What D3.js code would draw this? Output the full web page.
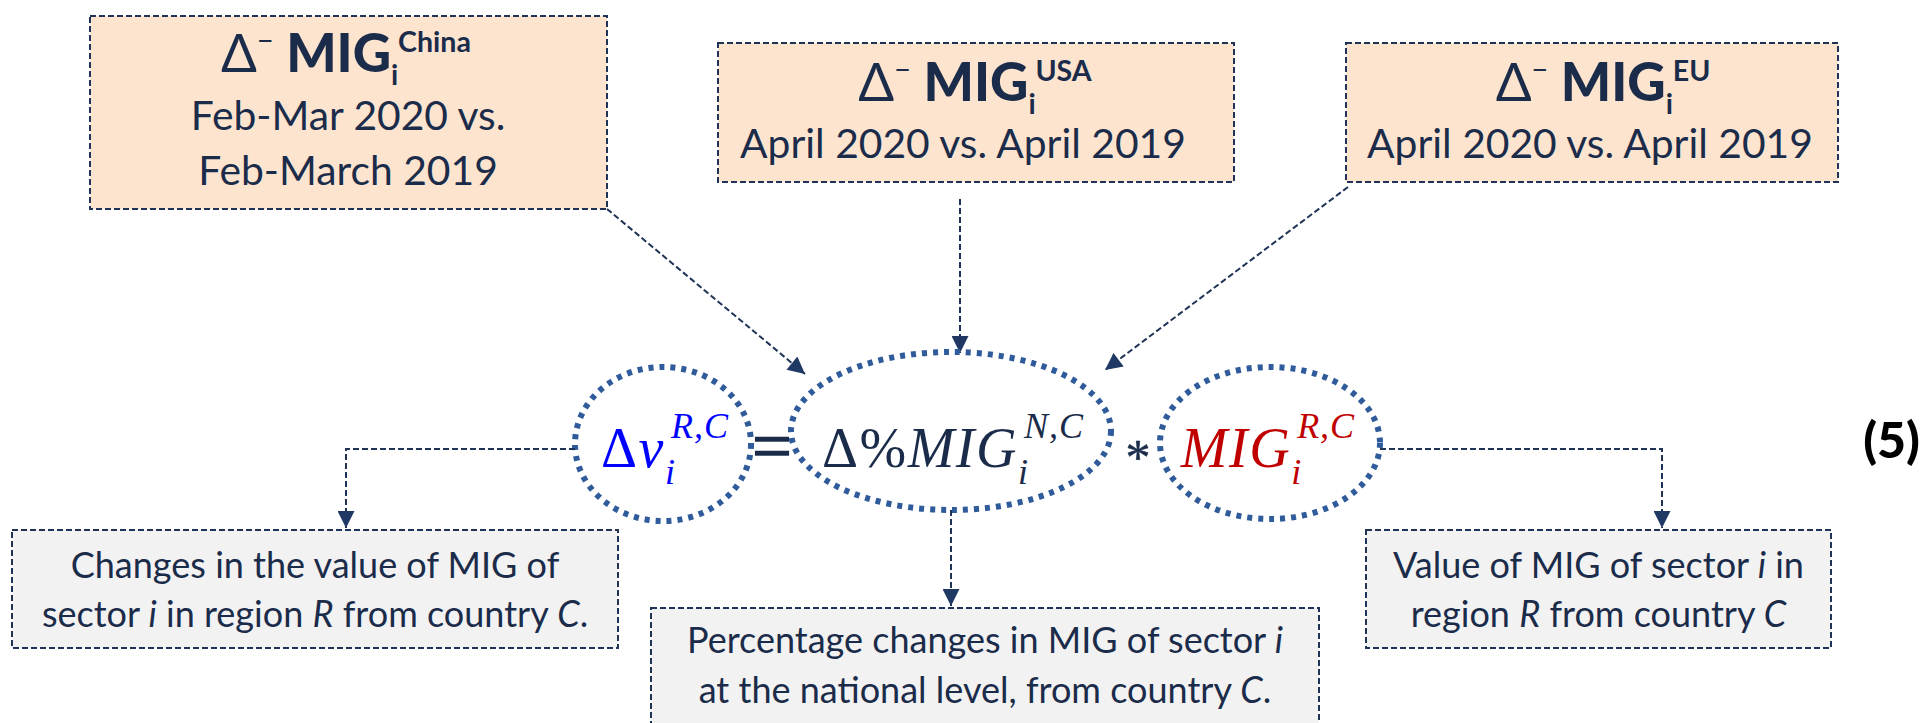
<!DOCTYPE html>
<html><head><meta charset="utf-8">
<script src="https://cdn.jsdelivr.net/npm/d3@7"></script>
<style>
html,body{margin:0;padding:0;background:#fff;overflow:hidden;}
svg{display:block;}
</style></head>
<body>
<svg id="c" width="1923" height="723"></svg>
<script>
// ---------------- data ----------------
const regions = ["China", "USA", "EU"];
const periodLines = [
  ["Feb-Mar 2020 vs.", "Feb-March 2019"],
  ["April 2020 vs. April 2019"],
  ["April 2020 vs. April 2019"]
];
const termMain = ["Δv", "Δ%MIG", "MIG"];
const termSup = ["R,C", "N,C", "R,C"];
const termSub = ["i", "i", "i"];
const operators = ["=", "*"];
const descriptions = [
  ["Changes in the value of MIG of", "sector _i_ in region _R_ from country _C_."],
  ["Percentage changes in MIG of sector _i_", "at the national level, from country _C_."],
  ["Value of MIG of sector _i_ in", "region _R_ from country _C_"]
];
const equationNumber = "(5)";

// ---------------- style / layout ----------------
const svg = d3.select("#c");
const navy = "#1f3356", dotBlue = "#2f5b9b", peach = "#fde4cf", grey = "#f2f2f2";
const textNavy = "#1b2c4a";
const termColors = ["#0000ff", textNavy, "#c00000"];
const sansFont = "Lato, 'Open Sans', sans-serif";
const mathFont = "'Liberation Serif', 'DejaVu Serif', serif";

const defs = svg.append("defs");
defs.append("marker").attr("id", "ah")
  .attr("viewBox", "0 0 10 10").attr("refX", 10).attr("refY", 5)
  .attr("markerWidth", 20).attr("markerHeight", 17)
  .attr("markerUnits", "userSpaceOnUse").attr("orient", "auto")
  .append("path").attr("d", "M0,0 L10,5 L0,10 Z").attr("fill", "#203864");

function measure(str, font, size, weight) {
  const t = svg.append("text").attr("font-family", font).attr("font-size", size)
    .attr("font-weight", weight || "normal").text(str);
  const w = t.node().getComputedTextLength();
  t.remove();
  return w;
}
const topBody = 40 * 446 / measure(periodLines[1][0], sansFont, 40);
const botBody = 40 * 550 / measure("sector i in region R from country C.", sansFont, 40);

// top boxes
const topBoxes = [
  {x0: 90, y0: 16, x1: 607, y1: 209, ty: 72, ly: [130, 185], cx: 346, lcx: 348},
  {x0: 718, y0: 43, x1: 1234, y1: 182, ty: 101, ly: [158], cx: 975, lcx: 963},
  {x0: 1346, y0: 43, x1: 1838, y1: 182, ty: 101, ly: [158], cx: 1603, lcx: 1590}
];
const boxDash = "6,3";

topBoxes.forEach((b, k) => {
  svg.append("rect").attr("x", b.x0).attr("y", b.y0)
    .attr("width", b.x1 - b.x0).attr("height", b.y1 - b.y0)
    .attr("fill", peach).attr("stroke", navy).attr("stroke-width", 2)
    .attr("stroke-dasharray", boxDash);
  const tsz = topBody * 1.3, ssz = topBody * 0.7;
  const t = svg.append("text").attr("x", b.cx).attr("y", b.ty)
    .attr("text-anchor", "middle").attr("font-family", sansFont).attr("fill", textNavy);
  t.append("tspan").attr("font-size", tsz).attr("font-weight", 400).text("Δ");
  t.append("tspan").attr("font-size", ssz).attr("dy", -tsz * 0.4).text("−");
  t.append("tspan").attr("font-size", tsz).attr("font-weight", 900).attr("dy", tsz * 0.4).text(" MIG");
  t.append("tspan").attr("font-size", ssz).attr("font-weight", 700).attr("dy", tsz * 0.25).text("i");
  t.append("tspan").attr("font-size", ssz).attr("font-weight", 700).attr("dy", -tsz * 0.62).text(regions[k]);
  periodLines[k].forEach((line, j) => {
    svg.append("text").attr("x", b.lcx).attr("y", b.ly[j])
      .attr("text-anchor", "middle").attr("font-family", sansFont)
      .attr("font-size", topBody).attr("fill", textNavy).text(line);
  });
});

// arrows from top boxes
const line = d3.line();
const arrowPaths = [
  [[607, 209], [805, 374]],
  [[960, 199], [960, 353]],
  [[1348, 187], [1105, 370]]
];
arrowPaths.forEach(p => {
  svg.append("path").attr("d", line(p)).attr("fill", "none")
    .attr("stroke", navy).attr("stroke-width", 2).attr("stroke-dasharray", "6,3")
    .attr("marker-end", "url(#ah)");
});

// ellipses
const ellipses = [
  {cx: 663, cy: 444, rx: 88, ry: 77, off: 2},
  {cx: 951, cy: 431, rx: 160, ry: 79, off: 2},
  {cx: 1270, cy: 443, rx: 110, ry: 76, off: -2}
];
ellipses.forEach(e => {
  svg.append("ellipse").attr("cx", e.cx).attr("cy", e.cy).attr("rx", e.rx).attr("ry", e.ry)
    .attr("fill", "none").attr("stroke", dotBlue).attr("stroke-width", 6)
    .attr("stroke-dasharray", "5,6");
});

// math terms
const mSize = 56, scSize = 36, mBase = 467;
termMain.forEach((m, k) => {
  const e = ellipses[k];
  const g = svg.append("g");
  const t = g.append("text").attr("y", mBase).attr("font-family", mathFont)
    .attr("font-size", mSize).attr("fill", termColors[k]).attr("letter-spacing", 1.5);
  m.split("").forEach(ch => {
    t.append("tspan").attr("font-style", /[A-Za-z]/.test(ch) ? "italic" : "normal").text(ch);
  });
  const mw = t.node().getComputedTextLength();
  const sup = g.append("text").attr("y", mBase - 29).attr("font-family", mathFont)
    .attr("font-size", scSize).attr("font-style", "italic").attr("fill", termColors[k])
    .attr("letter-spacing", 1).text(termSup[k]);
  const sub = g.append("text").attr("y", mBase + 17).attr("font-family", mathFont)
    .attr("font-size", scSize).attr("font-style", "italic").attr("fill", termColors[k])
    .text(termSub[k]);
  const sw = Math.max(sup.node().getComputedTextLength(), sub.node().getComputedTextLength());
  const total = mw + 6 + sw;
  const x0 = e.cx + e.off - total / 2;
  t.attr("x", x0);
  sup.attr("x", x0 + mw + 6);
  sub.attr("x", x0 + mw);
});

// operators
const opPos = [{x: 772, y: 470, size: 70, sw: 1.6}, {x: 1138, y: 474, size: 50, sw: 0.5}];
operators.forEach((o, k) => {
  svg.append("text").attr("x", opPos[k].x).attr("y", opPos[k].y)
    .attr("text-anchor", "middle").attr("font-family", mathFont)
    .attr("font-size", opPos[k].size).attr("fill", textNavy)
    .attr("stroke", textNavy).attr("stroke-width", opPos[k].sw).text(o);
});

// connectors to bottom boxes
const connectors = [
  [[575, 449], [346, 449], [346, 528]],
  [[951, 510], [951, 606]],
  [[1380, 449], [1662, 449], [1662, 528]]
];
connectors.forEach(p => {
  svg.append("path").attr("d", line(p)).attr("fill", "none")
    .attr("stroke", navy).attr("stroke-width", 2).attr("stroke-dasharray", "6,3")
    .attr("marker-end", "url(#ah)");
});

// bottom boxes
const botBoxes = [
  {x0: 12, y0: 530, x1: 618, y1: 648, ly: [578, 627]},
  {x0: 651, y0: 608, x1: 1319, y1: 760, ly: [653, 703]},
  {x0: 1366, y0: 530, x1: 1831, y1: 648, ly: [578, 627]}
];
botBoxes.forEach((b, k) => {
  svg.append("rect").attr("x", b.x0).attr("y", b.y0)
    .attr("width", b.x1 - b.x0).attr("height", b.y1 - b.y0)
    .attr("fill", grey).attr("stroke", navy).attr("stroke-width", 2)
    .attr("stroke-dasharray", boxDash);
  descriptions[k].forEach((ln, j) => {
    const t = svg.append("text").attr("x", (b.x0 + b.x1) / 2).attr("y", b.ly[j])
      .attr("text-anchor", "middle").attr("font-family", sansFont)
      .attr("font-size", botBody).attr("fill", textNavy);
    ln.split("_").forEach((seg, s) => {
      if (seg.length) t.append("tspan").attr("font-style", s % 2 ? "italic" : "normal").text(seg);
    });
  });
});

// equation number
svg.append("text").attr("x", 1920).attr("y", 458).attr("text-anchor", "end")
  .attr("font-family", sansFont).attr("font-weight", 900).attr("font-size", 50)
  .attr("fill", "#000").text(equationNumber);
</script>
</body></html>
